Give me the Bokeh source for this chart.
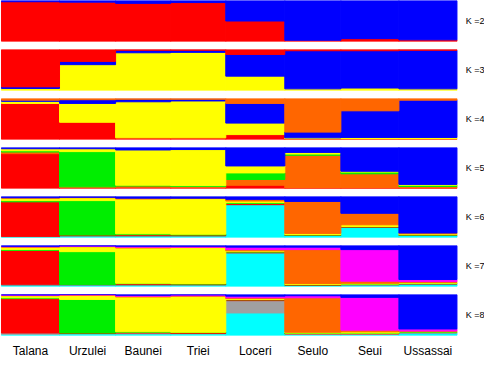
from bokeh.plotting import figure
from bokeh.layouts import column
from bokeh.models import Range1d, FixedTicker
from bokeh.core.properties import value
from bokeh.embed import file_html
from bokeh.resources import INLINE

# ---------------- data ----------------
populations = ["Talana", "Urzulei", "Baunei", "Triei", "Loceri", "Seulo", "Seui", "Ussassai"]
pop_sizes = [59, 57, 56, 56, 60, 57, 59, 59]
k_values = [2, 3, 4, 5, 6, 7, 8]

RED, BLUE, YEL, ORA, GRN, CYA, MAG, GRY = ("#FF0000", "#0000FF", "#FFFF00", "#FF6600",
                                           "#00EE00", "#00FFFF", "#FF00FF", "#A0A0A0")

# cluster colours in stacking order (bottom -> top)
colors_k2 = [RED, BLUE]
colors_k3 = [YEL, BLUE, RED]
colors_k4 = [RED, YEL, BLUE, ORA]
colors_k5 = [RED, ORA, GRN, YEL, BLUE]
colors_k6 = [CYA, RED, GRN, YEL, ORA, BLUE]
colors_k7 = [CYA, RED, GRN, YEL, ORA, MAG, BLUE]
colors_k8 = [CYA, GRY, RED, GRN, YEL, ORA, MAG, BLUE]

# mean ancestry proportions per population (rows follow `populations`)
q_k2 = [[0.97, 0.03], [0.96, 0.04], [0.93, 0.07], [0.95, 0.05],
        [0.50, 0.50], [0.03, 0.97], [0.07, 0.93], [0.04, 0.96]]
q_k3 = [[0.05, 0.04, 0.91], [0.63, 0.08, 0.29], [0.92, 0.06, 0.02], [0.93, 0.05, 0.02],
        [0.35, 0.53, 0.12], [0.04, 0.93, 0.03], [0.06, 0.91, 0.03], [0.04, 0.94, 0.02]]
q_k4 = [[0.88, 0.05, 0.03, 0.04], [0.42, 0.46, 0.09, 0.03], [0.04, 0.88, 0.06, 0.02],
        [0.04, 0.90, 0.04, 0.02], [0.12, 0.28, 0.48, 0.12], [0.01, 0.03, 0.14, 0.82],
        [0.01, 0.04, 0.65, 0.30], [0.01, 0.04, 0.91, 0.04]]
q_k5 = [[0.85, 0.04, 0.03, 0.05, 0.03], [0.02, 0.02, 0.86, 0.07, 0.03],
        [0.03, 0.03, 0.02, 0.86, 0.06], [0.02, 0.03, 0.02, 0.88, 0.05],
        [0.08, 0.14, 0.16, 0.17, 0.45], [0.01, 0.80, 0.03, 0.04, 0.12],
        [0.01, 0.35, 0.04, 0.02, 0.58], [0.01, 0.04, 0.03, 0.02, 0.90]]
q_k6 = [[0.02, 0.85, 0.03, 0.06, 0.01, 0.03], [0.04, 0.02, 0.84, 0.07, 0.01, 0.02],
        [0.04, 0.03, 0.02, 0.85, 0.02, 0.04], [0.04, 0.02, 0.02, 0.87, 0.01, 0.04],
        [0.80, 0.03, 0.02, 0.04, 0.04, 0.07], [0.05, 0.01, 0.01, 0.03, 0.78, 0.12],
        [0.25, 0.01, 0.01, 0.04, 0.28, 0.41], [0.05, 0.01, 0.01, 0.02, 0.02, 0.89]]
q_k7 = [[0.04, 0.84, 0.02, 0.06, 0.01, 0.01, 0.02], [0.04, 0.01, 0.80, 0.12, 0.01, 0.01, 0.01],
        [0.04, 0.03, 0.01, 0.86, 0.02, 0.02, 0.02], [0.04, 0.02, 0.01, 0.88, 0.01, 0.02, 0.02],
        [0.82, 0.02, 0.01, 0.02, 0.03, 0.06, 0.04], [0.03, 0.01, 0.01, 0.02, 0.83, 0.06, 0.04],
        [0.04, 0.01, 0.01, 0.02, 0.05, 0.77, 0.10], [0.06, 0.01, 0.01, 0.02, 0.02, 0.05, 0.83]]
q_k8 = [[0.03, 0.03, 0.84, 0.02, 0.05, 0.01, 0.01, 0.01],
        [0.04, 0.01, 0.01, 0.82, 0.10, 0.01, 0.01, 0.00],
        [0.04, 0.02, 0.02, 0.01, 0.85, 0.02, 0.02, 0.02],
        [0.04, 0.01, 0.02, 0.01, 0.88, 0.01, 0.02, 0.01],
        [0.55, 0.30, 0.02, 0.01, 0.02, 0.02, 0.04, 0.04],
        [0.03, 0.01, 0.01, 0.01, 0.02, 0.84, 0.05, 0.03],
        [0.03, 0.01, 0.01, 0.01, 0.03, 0.04, 0.80, 0.07],
        [0.06, 0.01, 0.01, 0.01, 0.01, 0.01, 0.05, 0.84]]

panels = [(2, colors_k2, q_k2), (3, colors_k3, q_k3), (4, colors_k4, q_k4),
          (5, colors_k5, q_k5), (6, colors_k6, q_k6), (7, colors_k7, q_k7),
          (8, colors_k8, q_k8)]

# ---------------- layout ----------------
N = sum(pop_sizes)
edges = [0]
for n in pop_sizes:
    edges.append(edges[-1] + n)
centers = [(edges[i] + edges[i + 1]) / 2 for i in range(len(pop_sizes))]

x_range = Range1d(-1, N + 28)
FONT = "Liberation Sans"

figs = []
for idx, (k, cols, q) in enumerate(panels):
    last = idx == len(panels) - 1
    p = figure(frame_width=484, frame_height=41, x_range=x_range, y_range=Range1d(0, 1),
               output_backend="svg", toolbar_location=None, min_border=0,
               min_border_bottom=0 if last else 8)
    p.outline_line_color = None
    p.grid.visible = False
    p.yaxis.visible = False
    for c in range(k):
        left, right, bottom, top = [], [], [], []
        for i in range(len(pop_sizes)):
            row = q[i]
            tot = sum(row)
            b = sum(row[:c]) / tot
            t = sum(row[:c + 1]) / tot
            left.append(edges[i])
            right.append(edges[i + 1])
            bottom.append(b)
            top.append(t)
        p.quad(left=left, right=right, bottom=bottom, top=top,
               fill_color=cols[c], line_color=cols[c], line_width=1)
    p.text(x=[N + 9], y=[0.5], text=["K =%d" % k], text_baseline="middle",
           text_align="left", text_font=value(FONT), text_font_size="9px",
           text_color="#000000")
    if last:
        ax = p.xaxis[0]
        ax.ticker = FixedTicker(ticks=centers)
        ax.major_label_overrides = {c: name for c, name in zip(centers, populations)}
        ax.axis_line_color = None
        ax.major_tick_line_color = None
        ax.minor_tick_line_color = None
        ax.major_label_text_font = FONT
        ax.major_label_text_font_size = "12px"
        ax.major_label_text_color = "#000000"
        ax.major_label_standoff = 2
    else:
        p.xaxis.visible = False
    figs.append(p)

layout = column(*figs, spacing=0)
open("out.html", "w").write(file_html(layout, INLINE))
